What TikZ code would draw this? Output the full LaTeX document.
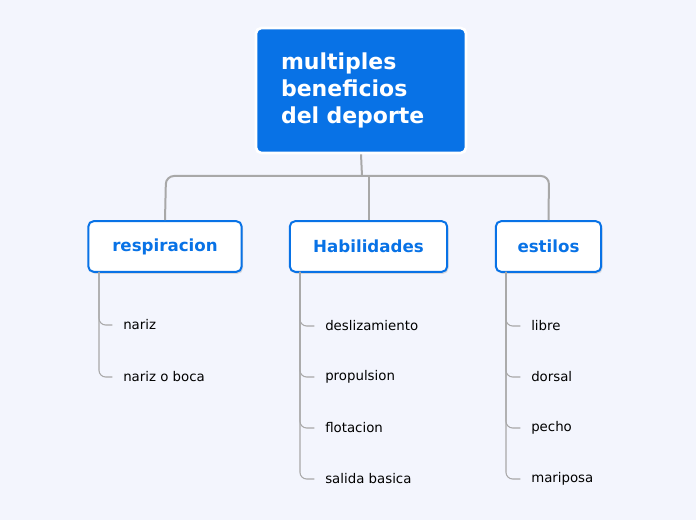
\documentclass[tikz,border=0pt]{standalone}
\usepackage{fontspec}
\setmainfont{DejaVu Sans}
\usetikzlibrary{shadows}
\definecolor{mainblue}{HTML}{0872E6}
\definecolor{bgcol}{HTML}{F3F5FD}
\definecolor{linegray}{HTML}{A8A8A8}
\tikzset{
  rootbox/.style={draw=white, line width=2pt, fill=mainblue, rounded corners=4pt, minimum width=157.5pt, minimum height=93.75pt, text=white, font=\fontsize{16.5}{20}\selectfont\bfseries, align=left, text width=120pt},
  topicbox/.style={draw=mainblue, line width=1.5pt, fill=white, rounded corners=4pt, minimum height=38pt, text=mainblue, font=\fontsize{12.5}{15}\selectfont\bfseries, drop shadow={opacity=0.25, shadow xshift=1pt, shadow yshift=-1.5pt}},
  leaf/.style={anchor=west, font=\fontsize{10}{12}\selectfont, inner sep=0pt},
  link/.style={draw=linegray, line width=1.5pt, rounded corners=6pt},
  twig/.style={draw=linegray, line width=0.8pt, rounded corners=5pt}
}
\begin{document}
\begin{tikzpicture}[x=0.75pt, y=-0.75pt]
  % Background
  \fill[bgcol] (0,0) rectangle (696,520);
  \useasboundingbox (0,0) rectangle (696,520);

  % Central topic
  \node[rootbox] (root) at (361,90.5) {multiples\\beneficios\\del deporte};

  % Main topics
  \node[topicbox, minimum width=115pt] (resp) at (165,246.5) {respiracion};
  \node[topicbox, minimum width=118pt] (hab) at (368.5,246.5) {Habilidades};
  \node[topicbox, minimum width=79pt] (est) at (548.5,246.5) {estilos};

  % Connectors
  \coordinate (hub) at (362,176);
  \draw[link] (root.south) -- (hub);
  \draw[link] (resp.north) -- (166,176) -- (549,176) -- (est.north);
  \draw[link] (hub -| hab.north) -- (hab.north);

  % Subtopics
  \node[leaf] (r1) at (123,325) {nariz};
  \node[leaf] (r2) at (123,377) {nariz o boca};
  \node[leaf] (h1) at (325,326) {deslizamiento};
  \node[leaf] (h2) at (325,377) {propulsion};
  \node[leaf] (h3) at (325,428) {flotacion};
  \node[leaf] (h4) at (325,479) {salida basica};
  \node[leaf] (e1) at (531,326) {libre};
  \node[leaf] (e2) at (531,377) {dorsal};
  \node[leaf] (e3) at (531,428) {pecho};
  \node[leaf] (e4) at (531,479) {mariposa};

  \foreach \p/\x/\l in {resp/99/r1, resp/99/r2, hab/300/h1, hab/300/h2, hab/300/h3, hab/300/h4, est/506/e1, est/506/e2, est/506/e3, est/506/e4} {
    \draw[twig] (\x,272) |- ([xshift=-8pt]\l.west);
  }
\end{tikzpicture}
\end{document}
